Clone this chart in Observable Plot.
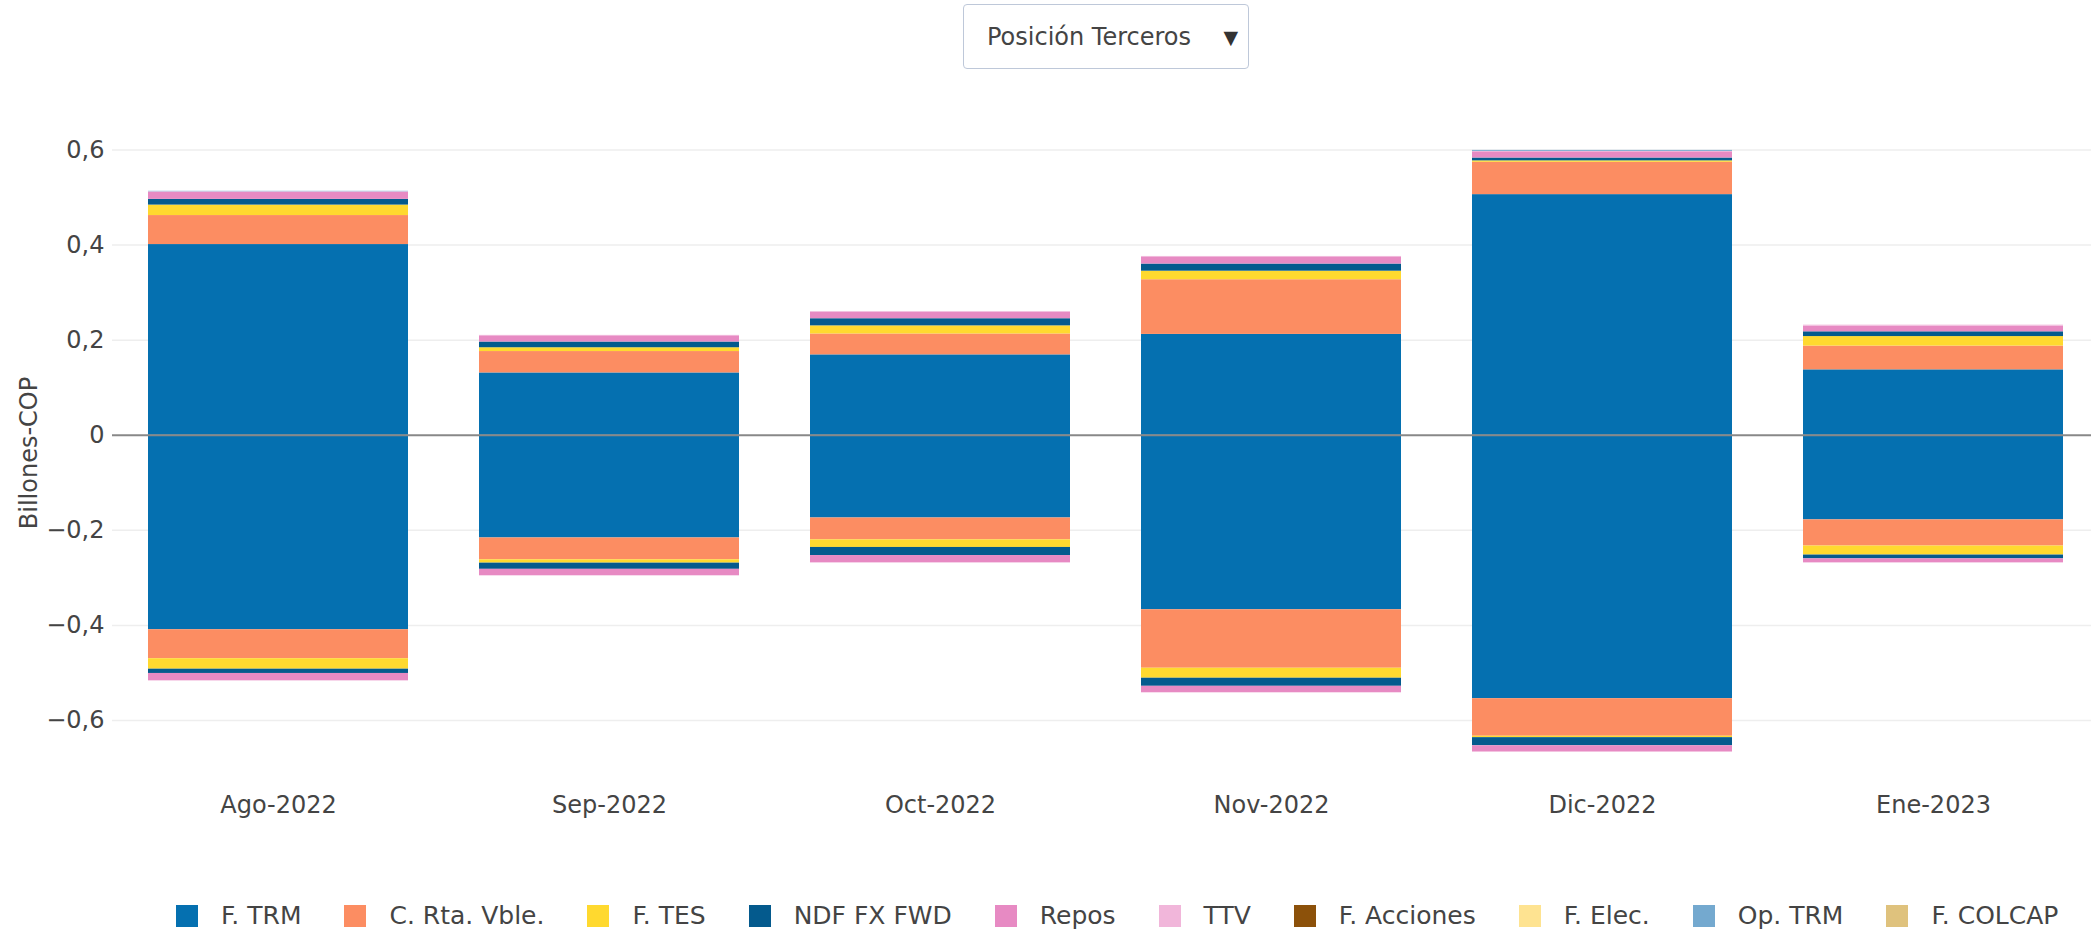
<!DOCTYPE html>
<html>
<head>
<meta charset="utf-8">
<script src="https://cdn.jsdelivr.net/npm/d3@7"></script>
<script src="https://cdn.jsdelivr.net/npm/@observablehq/plot@0.6"></script>
<style>
  html, body { margin: 0; padding: 0; background: #fff; overflow: hidden; }
  body { width: 2091px; height: 931px; position: relative; font-family: "DejaVu Sans", Verdana, sans-serif; color: #444; }
  #chart { position: absolute; left: 0; top: 0; }
  #dropdown { position: absolute; left: 963px; top: 4px; width: 286px; height: 65px; border: 1px solid #bec8d9; border-radius: 4px; box-sizing: border-box; background: #fff; font-size: 24px; color: #444; }
  #dropdown .lbl { position: absolute; left: 23px; top: 50%; transform: translateY(-50%); }
  #dropdown .arr { position: absolute; right: 10px; top: 50%; transform: translateY(-52%); font-size: 19px; color: #333; }
  #ytitle { position: absolute; left: 29px; top: 453px; transform: translate(-50%, -50%) rotate(-90deg); font-size: 24px; color: #444; white-space: nowrap; }
  #legend { position: absolute; left: 176px; top: 901px; width: max-content; display: flex; flex-wrap: nowrap; align-items: center; font-size: 25px; color: #444; white-space: nowrap; }
  #legend .item { display: flex; flex-shrink: 0; align-items: center; margin-right: 43px; }
  #legend .sw { width: 22px; height: 22px; margin-right: 23px; flex-shrink: 0; }
</style>
</head>
<body>
<div id="chart"></div>
<div id="dropdown"><span class="lbl">Posición Terceros</span><span class="arr">▼</span></div>
<div id="ytitle">Billones-COP</div>
<div id="legend"></div>
<script>
const months = ["Ago-2022", "Sep-2022", "Oct-2022", "Nov-2022", "Dic-2022", "Ene-2023"];
const seriesNames = ["F. TRM", "C. Rta. Vble.", "F. TES", "NDF FX FWD", "Repos", "TTV", "F. Acciones", "F. Elec.", "Op. TRM", "F. COLCAP"];
const seriesColors = ["#0570b0", "#fc8d62", "#ffd92f", "#045a8d", "#e78ac3", "#f1b6da", "#8c510a", "#fee391", "#74a9cf", "#dfc27d"];
const yTicks = [-0.6, -0.4, -0.2, 0, 0.2, 0.4, 0.6];

// positive (long) and negative (short) positions per series, Billones COP
const fTrmPos    = [0.401, 0.131, 0.169, 0.212, 0.506, 0.1375];
const fTrmNeg    = [-0.409, -0.216, -0.174, -0.367, -0.554, -0.178];
const cRtaPos    = [0.061, 0.045, 0.044, 0.115, 0.068, 0.050];
const cRtaNeg    = [-0.061, -0.046, -0.046, -0.123, -0.079, -0.055];
const fTesPos    = [0.022, 0.008, 0.017, 0.018, 0.003, 0.020];
const fTesNeg    = [-0.022, -0.007, -0.016, -0.021, -0.003, -0.019];
const ndfPos     = [0.012, 0.012, 0.015, 0.015, 0.006, 0.010];
const ndfNeg     = [-0.009, -0.013, -0.017, -0.017, -0.017, -0.008];
const reposPos   = [0.015, 0.013, 0.014, 0.015, 0.013, 0.012];
const reposNeg   = [-0.015, -0.013, -0.015, -0.013, -0.013, -0.008];
const ttvPos     = [0.001, 0.001, 0.001, 0.001, 0.001, 0.002];
const ttvNeg     = [-0.001, -0.001, -0.001, -0.001, -0.001, -0.001];
const fAccPos    = [0, 0, 0, 0, 0, 0];
const fAccNeg    = [0, 0, 0, 0, 0, 0];
const fElecPos   = [0, 0, 0, 0, 0, 0];
const fElecNeg   = [0, 0, 0, 0, 0, 0];
const opTrmPos   = [0.001, 0, 0, 0, 0.002, 0];
const opTrmNeg   = [0, 0, 0, 0, 0, 0];
const fColcapPos = [0, 0, 0, 0, 0, 0];
const fColcapNeg = [0, 0, 0, 0, 0, 0];

const posBySeries = [fTrmPos, cRtaPos, fTesPos, ndfPos, reposPos, ttvPos, fAccPos, fElecPos, opTrmPos, fColcapPos];
const negBySeries = [fTrmNeg, cRtaNeg, fTesNeg, ndfNeg, reposNeg, ttvNeg, fAccNeg, fElecNeg, opTrmNeg, fColcapNeg];

const rows = [];
seriesNames.forEach((s, i) => {
  months.forEach((m, j) => {
    if (posBySeries[i][j] !== 0) rows.push({month: m, series: s, value: posBySeries[i][j]});
    if (negBySeries[i][j] !== 0) rows.push({month: m, series: s, value: negBySeries[i][j]});
  });
});

const fmt = d => d === 0 ? "0" : d.toFixed(1).replace(".", ",").replace("-", "\u2212");

const chart = Plot.plot({
  width: 2091,
  height: 860,
  marginLeft: 112,
  marginRight: 0,
  marginTop: 0,
  marginBottom: 83,
  style: {fontFamily: "'DejaVu Sans', Verdana, sans-serif", fontSize: "24px", color: "#444", background: "#fff", overflow: "visible"},
  x: {type: "band", domain: months, range: [112, 2099], paddingInner: 0.215, paddingOuter: 0.1075, label: null},
  y: {domain: [-0.72, 0.66], range: [777.1, 120.9], label: null},
  color: {domain: seriesNames, range: seriesColors},
  marks: [
    Plot.ruleY(yTicks.filter(d => d !== 0), {stroke: "#eeeeee", strokeWidth: 1.5}),
    Plot.barY(rows, {x: "month", y: "value", fill: "series", order: seriesNames}),
    Plot.ruleY([0], {stroke: "#888", strokeWidth: 2}),
    Plot.axisY({ticks: yTicks, tickFormat: fmt, tickSize: 0, tickPadding: 8, label: null, fill: "#444", fontSize: 24}),
    Plot.axisX({tickSize: 0, tickPadding: 18, label: null, fill: "#444", fontSize: 24})
  ]
});
document.getElementById("chart").appendChild(chart);

const legend = document.getElementById("legend");
seriesNames.forEach((s, i) => {
  const item = document.createElement("div");
  item.className = "item";
  const sw = document.createElement("div");
  sw.className = "sw";
  sw.style.background = seriesColors[i];
  const t = document.createElement("span");
  t.textContent = s;
  item.appendChild(sw);
  item.appendChild(t);
  legend.appendChild(item);
});
</script>
</body>
</html>
